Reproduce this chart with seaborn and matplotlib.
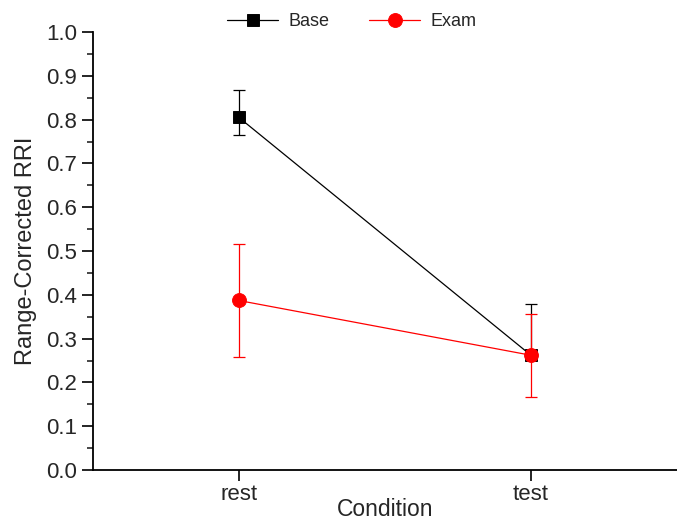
import numpy as np
import pandas as pd
import matplotlib
matplotlib.use("Agg")
import matplotlib.pyplot as plt
import seaborn as sns
from matplotlib.ticker import MultipleLocator, FormatStrFormatter

conditions = ["rest", "test"]
base_mean = [0.805, 0.262]
base_upper = [0.868, 0.380]
base_lower = [0.765, 0.255]
exam_mean = [0.387, 0.262]
exam_upper = [0.515, 0.357]
exam_lower = [0.257, 0.167]

sns.set_style("ticks")
plt.rcParams["font.family"] = ["Liberation Sans", "DejaVu Sans"]

df = pd.DataFrame({
    "Condition": conditions * 2,
    "RRI": base_mean + exam_mean,
    "Group": ["Base"] * 2 + ["Exam"] * 2,
})

fig = plt.figure(figsize=(6.77, 5.22), dpi=100)
ax = fig.add_axes([0.137, 0.0996, 0.863, 0.8391])

colors = {"Base": "black", "Exam": "red"}
markers = {"Base": "s", "Exam": "o"}
sizes = {"Base": 9, "Exam": 10}
groups = {"Base": (base_mean, base_lower, base_upper),
          "Exam": (exam_mean, exam_lower, exam_upper)}

for g in ["Base", "Exam"]:
    m, lo, hi = groups[g]
    x = np.arange(len(conditions))
    err = [np.array(m) - np.array(lo), np.array(hi) - np.array(m)]
    ax.errorbar(x, m, yerr=err, fmt="none", ecolor=colors[g], elinewidth=0.9,
                capsize=4, capthick=0.9, zorder=2)
    sub = df[df["Group"] == g]
    sns.pointplot(data=sub, x="Condition", y="RRI", color=colors[g], marker=markers[g],
                  markersize=sizes[g], linewidth=0.9, errorbar=None, ax=ax, label=g,
                  order=conditions)

handles, labels = ax.get_legend_handles_labels()
if ax.get_legend() is not None:
    ax.get_legend().remove()

ax.set_xlim(-0.5, 1.5)
ax.set_ylim(0, 1.0)
ax.yaxis.set_major_locator(MultipleLocator(0.1))
ax.yaxis.set_minor_locator(MultipleLocator(0.05))
ax.yaxis.set_major_formatter(FormatStrFormatter("%.1f"))
ax.tick_params(axis="both", which="major", length=8, width=1.2, labelsize=16, color="black")
ax.tick_params(axis="x", which="major", pad=2)
ax.tick_params(axis="y", which="minor", length=4, width=1.2)
sns.despine(ax=ax)
for s in ["left", "bottom"]:
    ax.spines[s].set_linewidth(1.3)
    ax.spines[s].set_color("black")

ax.set_xlabel("Condition", fontsize=16.5, labelpad=-5)
ax.set_ylabel("Range-Corrected RRI", fontsize=17, labelpad=6)

fig.legend(handles, labels, loc="center", bbox_to_anchor=(0.52, 0.958),
           ncol=2, frameon=False, fontsize=13, handlelength=2.8, handletextpad=0.6,
           columnspacing=2.2)

fig.savefig("out.png", dpi=100)
